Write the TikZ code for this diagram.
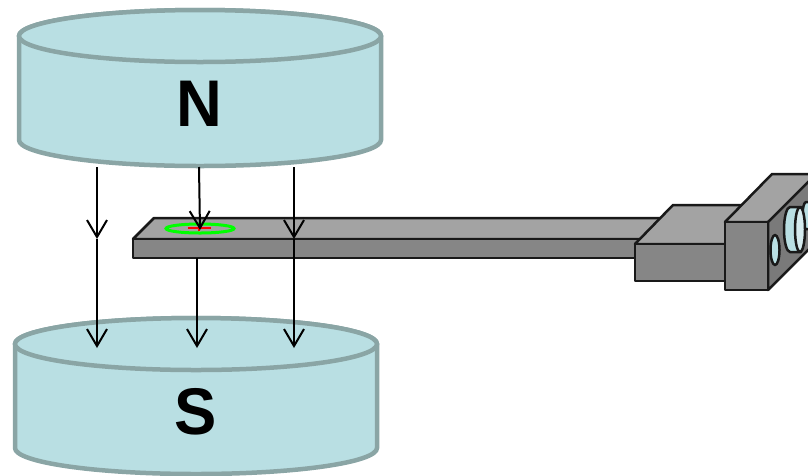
\documentclass[tikz,border=0pt]{standalone}
\usepackage{fontspec}
\setmainfont{Liberation Sans}
\usetikzlibrary{arrows.meta}
\definecolor{magfill}{HTML}{B9DFE3}
\definecolor{magline}{HTML}{8AA5A5}
\definecolor{grayTop}{HTML}{A3A3A3}
\definecolor{grayFront}{HTML}{868686}
\definecolor{grayDark}{HTML}{7A7A7A}
\definecolor{lens}{HTML}{D5EBEE}
\tikzset{
  magnet/.style={fill=magfill,draw=magline,line width=4.5pt},
  solid part/.style={draw=black!90,line width=2.5pt,line join=round},
  field/.style={draw=black,line width=2pt,-{Straight Barb[length=17pt,width=20pt,line width=2pt]}},
  pole/.style={font=\bfseries\fontsize{66}{66}\selectfont,text=black,inner sep=0pt,xscale=0.96}
}
\begin{document}
\begin{tikzpicture}[x=1pt,y=-1pt]
\useasboundingbox (0,0) rectangle (808,475);
% N magnet
\path[magnet] (19,36) -- (19,140) arc[start angle=180,end angle=0,x radius=181,y radius=26] -- (381,36) arc[start angle=0,end angle=-180,x radius=181,y radius=26] -- cycle;
\path[magnet] (200,36) ellipse[x radius=181,y radius=26];
\node[pole] (north) at (199,103.5) {N};
% S magnet
\path[magnet] (15,344) -- (15,448) arc[start angle=180,end angle=0,x radius=181,y radius=26] -- (377,344) arc[start angle=0,end angle=-180,x radius=181,y radius=26] -- cycle;
\path[magnet] (196,344) ellipse[x radius=181,y radius=26];
\node[pole] (south) at (196,412) {S};
% cantilever
\path[solid part,fill=grayTop] (133,239) -- (154,218) -- (680,218) -- (680,239) -- cycle;
\path[solid part,fill=grayFront] (133,239) rectangle (680,258);
% spot
\draw[green,line width=3pt] (200,228.5) ellipse[x radius=34,y radius=4.5];
\draw[red,line width=1.8pt] (188,228) -- (211,228);
\draw[red,line width=1.8pt] (199,228) -- (199,231);
% holder
\path[solid part,fill=grayTop] (635,244) -- (673,205) -- (775,205) -- (735,244) -- cycle;
\path[solid part,fill=grayFront] (635,244) rectangle (735,281);
% clamp
\path[solid part,fill=grayTop] (725,222) -- (772,174) -- (830,174) -- (768,222) -- cycle;
\path[solid part,fill=grayDark] (768,222) -- (830,160) -- (830,228) -- (768,290) -- cycle;
\path[solid part,fill=grayFront] (725,222) rectangle (768,290);
\path[solid part,fill=magfill] (775,250) ellipse[x radius=4.5,y radius=15];
\path[solid part,fill=magfill] (806,202) -- (815,202) -- (815,229) -- (806,229) arc[start angle=90,end angle=270,x radius=3.5,y radius=13.5] -- cycle;
\path[solid part,fill=magfill] (790,207) -- (801,207) -- (801,252) -- (790,252) arc[start angle=90,end angle=270,x radius=6,y radius=22.5] -- cycle;
\path[solid part,fill=lens] (800,229.5) ellipse[x radius=5,y radius=22.5];
% field lines
\coordinate (a1) at (97,167); \coordinate (a2) at (97,239); \coordinate (a3) at (97,348);
\coordinate (b1) at (199,167); \coordinate (b2) at (200,230);
\coordinate (b3) at (197,258); \coordinate (b4) at (197,348);
\coordinate (c1) at (294,167); \coordinate (c2) at (294,239); \coordinate (c3) at (294,348);
\draw[field] (a1) -- (a2);
\draw[field] (a2) -- (a3);
\draw[field] (b1) -- (b2);
\draw[field] (b3) -- (b4);
\draw[field] (c1) -- (c2);
\draw[field] (c2) -- (c3);
\end{tikzpicture}
\end{document}
